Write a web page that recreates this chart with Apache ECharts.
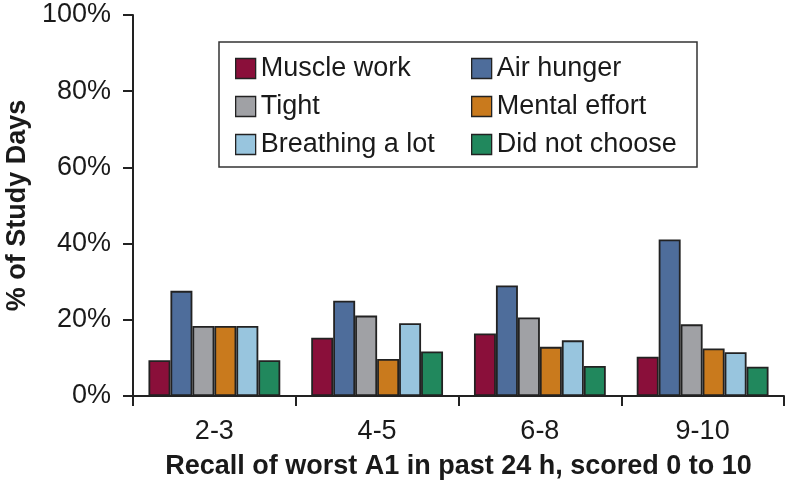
<!DOCTYPE html>
<html><head><meta charset="utf-8">
<script src="https://cdn.jsdelivr.net/npm/echarts@6/dist/echarts.min.js"></script>
<style>html,body{margin:0;padding:0;background:#fff}#c{width:785px;height:483px}</style>
</head><body><div id="c"></div>
<script>
const categories = ['2-3', '4-5', '6-8', '9-10'];
const seriesNames = ['Muscle work', 'Air hunger', 'Tight', 'Mental effort', 'Breathing a lot', 'Did not choose'];
const muscleWork = [9.4, 15.3, 16.4, 10.3];
const airHunger = [27.6, 25.0, 29.0, 41.1];
const tight = [18.4, 21.1, 20.6, 18.8];
const mentalEffort = [18.4, 9.7, 12.9, 12.5];
const breathingALot = [18.4, 19.1, 14.6, 11.5];
const didNotChoose = [9.4, 11.7, 7.9, 7.7];
const yTicks = [0, 20, 40, 60, 80, 100];
const colors = ['#8A0F3A', '#4E6D9B', '#A0A1A5', '#C97A1D', '#98C5DE', '#21885D'];
const values = [muscleWork, airHunger, tight, mentalEffort, breathingALot, didNotChoose];

const chart = echarts.init(document.getElementById('c'), null, {renderer: 'canvas'});
const font = 'Liberation Sans, Arial, Helvetica, sans-serif';
const legendText = {fontSize: 27, color: '#1a1a1a', fontFamily: font};
chart.setOption({
  animation: false,
  color: colors,
  grid: {left: 133, right: 1, top: 15, bottom: 87, containLabel: false, outerBoundsMode: 'none'},
  legend: [
    {orient: 'vertical', left: 230, top: 50, itemWidth: 20, itemHeight: 20, itemGap: 11,
     data: [seriesNames[0], seriesNames[2], seriesNames[4]], textStyle: legendText, icon: 'rect',
     itemStyle: {borderColor: '#222', borderWidth: 1.3}, selectedMode: false},
    {orient: 'vertical', left: 466, top: 50, itemWidth: 20, itemHeight: 20, itemGap: 11,
     data: [seriesNames[1], seriesNames[3], seriesNames[5]], textStyle: legendText, icon: 'rect',
     itemStyle: {borderColor: '#222', borderWidth: 1.3}, selectedMode: false}
  ],
  graphic: [{type: 'rect', shape: {x: 219, y: 42, width: 478, height: 125},
    style: {fill: 'none', stroke: '#333', lineWidth: 1.5}, z: 100}],
  xAxis: {
    type: 'category', data: categories,
    axisLine: {lineStyle: {color: '#222', width: 2}},
    axisTick: {show: true, length: 10, inside: false, lineStyle: {color: '#222', width: 2}},
    axisLabel: {fontSize: 27, color: '#1a1a1a', margin: 22, fontFamily: font},
    name: 'Recall of worst A1 in past 24 h, scored 0 to 10', nameLocation: 'middle', nameGap: 57,
    nameTextStyle: {fontSize: 27, fontWeight: 'bold', color: '#1a1a1a', fontFamily: font}
  },
  yAxis: {
    type: 'value', min: 0, max: 100, interval: 20,
    axisLine: {show: true, lineStyle: {color: '#222', width: 2}},
    axisTick: {show: true, length: 10, lineStyle: {color: '#222', width: 2}},
    splitLine: {show: false},
    axisLabel: {fontSize: 27, color: '#1a1a1a', margin: 22, fontFamily: font,
      formatter: v => yTicks.includes(v) ? v + '%' : ''},
    name: '% of Study Days', nameLocation: 'middle', nameGap: 97,
    nameTextStyle: {fontSize: 27, fontWeight: 'bold', color: '#1a1a1a', fontFamily: font}
  },
  series: seriesNames.map((n, i) => ({
    name: n, type: 'bar', data: values[i], barGap: '0%', barCategoryGap: '19%',
    itemStyle: {color: colors[i], borderColor: '#222', borderWidth: 1.8}
  }))
});
</script></body></html>
